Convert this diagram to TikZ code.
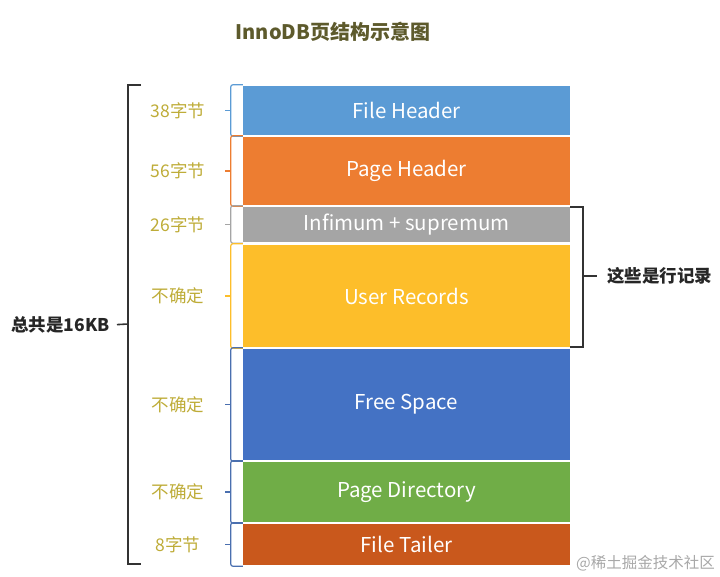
\documentclass[tikz,border=0pt]{standalone}
\usepackage{fontspec}
\setmainfont{Noto Sans CJK SC}
\usetikzlibrary{calc}
\definecolor{cFH}{HTML}{5B9BD5}
\definecolor{cPH}{HTML}{ED7D31}
\definecolor{cINF}{HTML}{A5A5A5}
\definecolor{cUR}{HTML}{FDBE2A}
\definecolor{cFS}{HTML}{4472C4}
\definecolor{cPD}{HTML}{70AD47}
\definecolor{cFT}{HTML}{C9581C}
\definecolor{cBr}{HTML}{4A6FAF}
\definecolor{cLab}{HTML}{BEAC38}
\definecolor{cTitle}{HTML}{5D5A2C}
\definecolor{cWm}{HTML}{A8A8A8}
\tikzset{
  blk/.style={draw=none, minimum width=327pt, inner sep=0pt, text=white, font=\fontsize{20.5}{22}\selectfont},
  sbr/.style={line width=1.2pt, rounded corners=2pt},
  lab/.style={text=cLab, font=\fontsize{17.5}{19}\selectfont, inner sep=0pt},
  bigbr/.style={line width=1.6pt, draw=black!80},
  side/.style={font=\bfseries\fontsize{17.5}{20}\selectfont, inner sep=0pt, text=black!85},
}
\begin{document}
\begin{tikzpicture}[x=1pt,y=-1pt]
\useasboundingbox (0,0) rectangle (720,577);
\node[font=\bfseries\fontsize{20}{22}\selectfont, text=cTitle] (title) at (333,32) {InnoDB页结构示意图};

\node[blk, fill=cFH,  minimum height=49pt]  (fh)  at (406.5,110.5) {File Header};
\node[blk, fill=cPH,  minimum height=68pt]  (ph)  at (406.5,171)   {Page Header};
\node[blk, fill=cINF, minimum height=35pt]  (inf) at (406.5,224.5) {Infimum + supremum};
\node[blk, fill=cUR,  minimum height=102pt] (ur)  at (406.5,296)   {User Records};
\node[blk, fill=cFS,  minimum height=111pt] (fs)  at (406.5,404.5) {Free Space};
\node[blk, fill=cPD,  minimum height=60pt]  (pd)  at (406.5,492)   {Page Directory};
\node[blk, fill=cFT,  minimum height=41pt]  (ft)  at (406.5,544.5) {File Tailer};

% small braces and labels
\foreach \b/\c/\t in {fh/cFH/38字节, ph/cPH/56字节, inf/cINF/26字节, ur/cUR/不确定, fs/cBr/不确定, pd/cBr/不确定, ft/cBr/8字节}{
  \draw[sbr, draw=\c] ([yshift=1pt]\b.north west) -- ([xshift=-12pt,yshift=1pt]\b.north west)
        -- ([xshift=-12pt,yshift=-1pt]\b.south west) -- ([yshift=-1pt]\b.south west);
  \node[lab] (l\b) at ($(\b.west)+(-65pt,0)$) {\t};
  \draw[line width=1.2pt, draw=\c] ([xshift=-12pt]\b.west) -- ([xshift=-18pt]\b.west);
}

% big brace
\node[side, anchor=east] (total) at (110,325) {总共是16KB};
\coordinate (bt) at (128,85);
\coordinate (bb) at (128,564);
\draw[bigbr] (141,85) -- (bt) -- (bb) -- (141,564);
\draw[bigbr, shorten >=7pt] (128,324) -- (total.east);

% right brace
\node[side, anchor=west] (rows) at (607,276) {这些是行记录};
\draw[bigbr] (inf.north east) -- ++(13,0) coordinate (rt) -- ([xshift=13pt]ur.south east) -- (ur.south east);
\draw[bigbr, shorten >=10pt] (583,276) -- (rows.west);

% watermark
\node[text=cWm, font=\fontsize{15.5}{17}\selectfont, anchor=east, inner sep=0pt] (wm) at (715,563) {@稀土掘金技术社区};
\end{tikzpicture}
\end{document}
